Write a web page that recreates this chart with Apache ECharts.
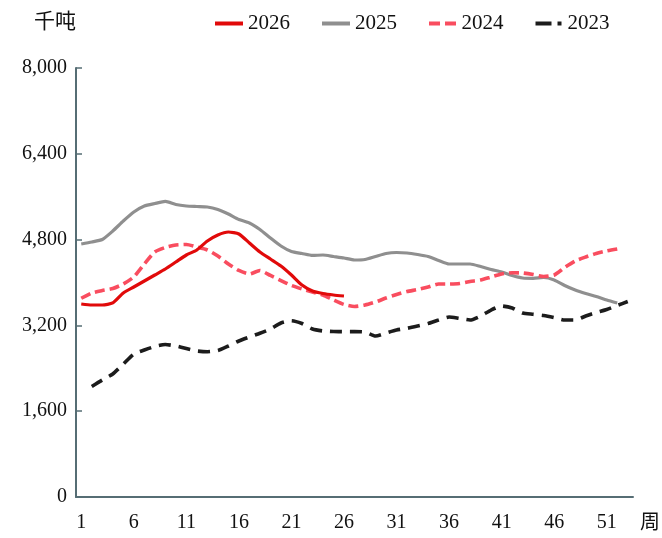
<!DOCTYPE html>
<html>
<head>
<meta charset="utf-8">
<script src="https://cdn.jsdelivr.net/npm/echarts@6/dist/echarts.min.js"></script>
<style>
html,body{margin:0;padding:0;background:#fff;}
#c{width:662px;height:538px;}
</style>
</head>
<body>
<div id="c"></div>
<script>
var weeks = [];
for (var i = 1; i <= 53; i++) weeks.push(String(i));

var s2026 = [3599,3580,3580,3618,3804,3916,4028,4140,4252,4382,4513,4606,4774,4886,4942,4905,4737,4569,4438,4308,4140,3953,3842,3795,3767,3748];

var s2025 = [4718,4755,4802,4960,5147,5315,5427,5473,5511,5455,5427,5417,5408,5361,5277,5175,5110,4988,4830,4681,4578,4541,4504,4513,4485,4457,4420,4429,4485,4541,4559,4550,4522,4485,4410,4345,4345,4345,4298,4242,4196,4130,4084,4078,4093,4047,3944,3860,3795,3739,3674,3618];

var s2024 = [3706,3804,3851,3888,3972,4103,4345,4569,4653,4699,4709,4662,4606,4494,4345,4224,4159,4224,4131,4037,3944,3879,3823,3767,3674,3590,3553,3580,3636,3711,3776,3832,3869,3916,3972,3972,3981,4019,4047,4103,4159,4183,4177,4149,4112,4140,4280,4401,4476,4541,4588,4625];

var s2023 = [null,2061,2182,2294,2480,2667,2741,2807,2844,2816,2769,2723,2710,2732,2816,2909,2984,3053,3133,3245,3288,3235,3133,3096,3086,3083,3083,3077,3002,3058,3114,3146,3189,3235,3301,3357,3329,3301,3375,3487,3562,3524,3431,3407,3385,3347,3301,3301,3375,3441,3497,3571,3646];

var seriesNames = ['2026','2025','2024','2023'];
var yTicks = [0,1600,3200,4800,6400,8000];

var FONT = '"Liberation Serif", "Noto Sans CJK SC", serif';
var AXIS = '#566d74';

var chart = echarts.init(document.getElementById('c'), null, {renderer:'canvas'});
chart.setOption({
  animation: false,
  backgroundColor: '#fff',
  grid: {left: 76, right: 29, top: 68, bottom: 41, containLabel: false},
  legend: {
    top: 8, left: 210,
    itemWidth: 28, itemHeight: 4, itemGap: 32,
    textStyle: {fontFamily: FONT, fontSize: 21, color: '#111', padding: [0,0,0,0]},
    data: [
      {name: '2026', icon: 'path://M0,0H28V4H0Z'},
      {name: '2025', icon: 'path://M0,0H28V4H0Z'},
      {name: '2024', icon: 'path://M0,0H11V4H0Z M16,0H27V4H16Z'},
      {name: '2023', icon: 'path://M0,0H16V4H0Z M22,0H26V4H22Z'}
    ]
  },
  graphic: [
    {type: 'text', left: 34, top: 10, style: {text: '千吨', font: '21px "Noto Sans CJK SC"', fill: '#111'}},
    {type: 'text', left: 640, top: 511, style: {text: '周', font: '20px "Noto Sans CJK SC"', fill: '#111'}}
  ],
  xAxis: {
    type: 'category',
    data: weeks,
    boundaryGap: true,
    axisLine: {lineStyle: {color: AXIS, width: 2}},
    axisTick: {inside: true, length: 6, interval: 4, alignWithLabel: true, lineStyle: {color: AXIS, width: 1.5}},
    axisLabel: {interval: 4, margin: 16, fontFamily: FONT, fontSize: 20, color: '#111'},
    splitLine: {show: false}
  },
  yAxis: {
    type: 'value',
    min: 0, max: 8000, interval: 1600,
    axisLine: {show: true, lineStyle: {color: AXIS, width: 2}},
    axisTick: {show: true, inside: true, length: 6, lineStyle: {color: AXIS, width: 1.5}},
    axisLabel: {
      margin: 9, fontFamily: FONT, fontSize: 20, color: '#111',
      formatter: function (v) { return v.toLocaleString('en-US'); }
    },
    splitLine: {show: false}
  },
  series: [
    {name: seriesNames[0], type: 'line', data: s2026, symbol: 'none', smooth: 0.2, color: '#e10a0a',
     lineStyle: {width: 3.2, color: '#e10a0a'}, z: 5},
    {name: seriesNames[1], type: 'line', data: s2025, symbol: 'none', smooth: 0.2, color: '#8f8f8f',
     lineStyle: {width: 3.2, color: '#8f8f8f'}, z: 2},
    {name: seriesNames[2], type: 'line', data: s2024, symbol: 'none', smooth: 0.2, color: '#f94d5f',
     lineStyle: {width: 3.6, color: '#f94d5f', type: [10, 5]}, z: 3},
    {name: seriesNames[3], type: 'line', data: s2023, symbol: 'none', smooth: 0.2, color: '#1c1c1c',
     lineStyle: {width: 3.6, color: '#1c1c1c', type: [12, 8]}, z: 4}
  ]
});
</script>
</body>
</html>
